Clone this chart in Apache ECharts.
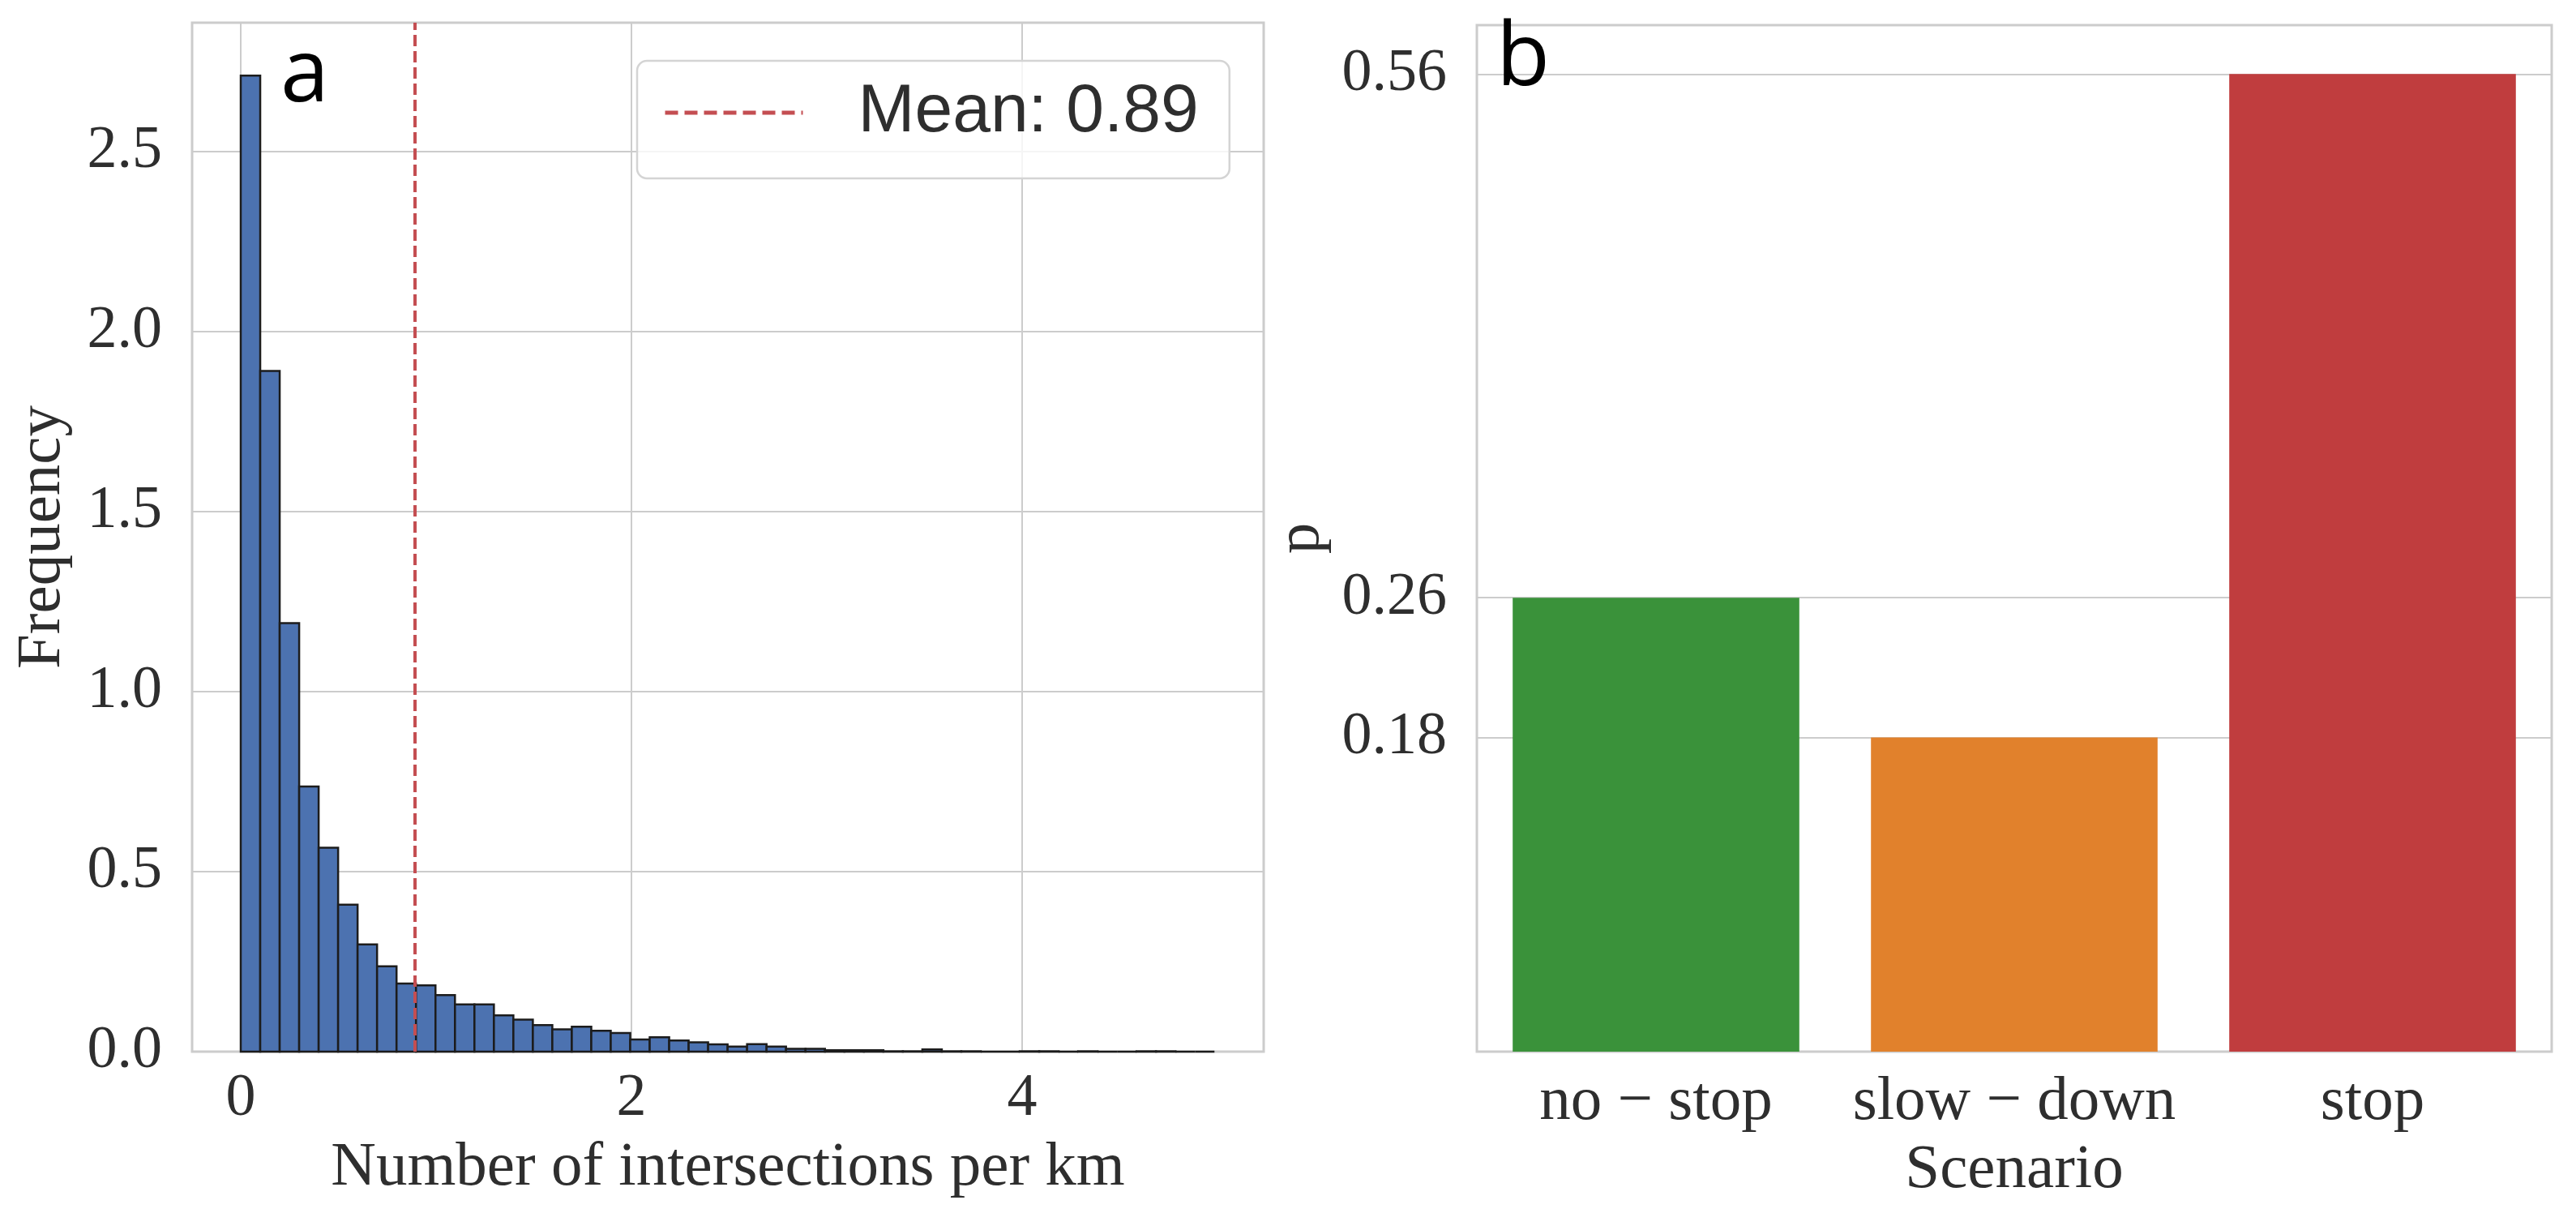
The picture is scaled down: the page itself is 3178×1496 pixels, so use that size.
<!DOCTYPE html>
<html>
<head>
<meta charset="utf-8">
<script src="https://cdn.jsdelivr.net/npm/echarts@6/dist/echarts.min.js"></script>
<style>
  html, body { margin: 0; padding: 0; background: #fff; }
  #chart { width: 3178px; height: 1496px; }
</style>
</head>
<body>
<div id="chart"></div>
<script>
// Panel a: histogram of intersections per km (density), 50 bins
const binStart = 0;
const binWidth = 0.0997;
const histHeights = [
  2.71, 1.89, 1.19, 0.736, 0.566, 0.408, 0.298, 0.237, 0.189, 0.184,
  0.157, 0.131, 0.131, 0.101, 0.089, 0.074, 0.062, 0.069, 0.058, 0.052,
  0.034, 0.040, 0.031, 0.026, 0.020, 0.014, 0.021, 0.014, 0.008, 0.008,
  0.004, 0.004, 0.004, 0.001, 0.001, 0.006, 0.001, 0.001, 0, 0,
  0.001, 0.001, 0, 0.001, 0, 0, 0.001, 0.001, 0, 0
];
const meanValue = 0.89;
const histXTicks = [0, 2, 4];
const histYTicks = [0, 0.5, 1.0, 1.5, 2.0, 2.5];

// Panel b: probability per scenario
const scenarios = ['no \u2212 stop', 'slow \u2212 down', 'stop'];
const probs = [0.26, 0.18, 0.56];
const probTicks = [0.18, 0.26, 0.56];
const scenarioColors = ['#3a923a', '#e1812c', '#c03d3e'];

const serif = '"Liberation Serif", "DejaVu Serif", serif';
const textGray = '#2e2e2e';
const gridGray = '#cccccc';
const meanRed = '#c44e52';

const chartDom = document.getElementById('chart');
const myChart = echarts.init(chartDom);

const histData = histHeights.map((h, i) => [binStart + i * binWidth, binStart + (i + 1) * binWidth, h]);

const option = {
  backgroundColor: '#ffffff',
  animation: false,
  grid: [
    { left: 237, top: 28, right: 1619, bottom: 199, show: true, borderColor: gridGray, borderWidth: 3, outerBoundsMode: 'none' },
    { left: 1822, top: 31, right: 30, bottom: 199, show: true, borderColor: gridGray, borderWidth: 3, outerBoundsMode: 'none' }
  ],
  legend: {
    data: ['Mean: ' + meanValue.toFixed(2)],
    left: 786,
    top: 75,
    orient: 'horizontal',
    selectedMode: false,
    padding: [14, 38, 31, 32],
    itemWidth: 170,
    itemHeight: 8,
    itemStyle: { opacity: 0 },
    lineStyle: { width: 5, type: [16, 8], color: meanRed },
    backgroundColor: 'rgba(255,255,255,0.8)',
    borderColor: '#d4d4d4',
    borderWidth: 2.5,
    borderRadius: 12,
    textStyle: {
      fontFamily: '"Liberation Sans", Arial, sans-serif',
      fontSize: 84,
      lineHeight: 100,
      color: textGray,
      padding: [0, 0, 0, 63]
    }
  },
  xAxis: [
    {
      type: 'value', gridIndex: 0, min: -0.249, max: 5.237,
      axisLine: { show: false },
      axisTick: { show: false, customValues: histXTicks },
      axisLabel: { customValues: histXTicks, margin: 22, fontFamily: serif, fontSize: 74, color: textGray },
      splitLine: { show: true, lineStyle: { color: gridGray, width: 2 } },
      name: 'Number of intersections per km',
      nameLocation: 'middle',
      nameGap: 105,
      nameTextStyle: { fontFamily: serif, fontSize: 77, color: textGray }
    },
    {
      type: 'category', gridIndex: 1, data: scenarios,
      axisLine: { show: false },
      axisTick: { show: false },
      axisLabel: { interval: 0, margin: 24, fontFamily: serif, fontSize: 77, color: textGray },
      splitLine: { show: false },
      name: 'Scenario',
      nameLocation: 'middle',
      nameGap: 108,
      nameTextStyle: { fontFamily: serif, fontSize: 77, color: textGray }
    }
  ],
  yAxis: [
    {
      type: 'value', gridIndex: 0, min: 0, max: 2.857,
      axisLine: { show: false },
      axisTick: { show: false, customValues: histYTicks },
      axisLabel: { customValues: histYTicks, margin: 37, fontFamily: serif, fontSize: 74, color: textGray,
        formatter: v => v.toFixed(1) },
      splitLine: { show: true, lineStyle: { color: gridGray, width: 2 } },
      name: 'Frequency',
      nameLocation: 'middle',
      nameGap: 146,
      nameTextStyle: { fontFamily: serif, fontSize: 77, color: textGray }
    },
    {
      type: 'value', gridIndex: 1, min: 0, max: 0.588,
      axisLine: { show: false },
      axisTick: { show: false, customValues: probTicks },
      axisLabel: { customValues: probTicks, margin: 37, fontFamily: serif, fontSize: 74, color: textGray,
        formatter: v => v.toFixed(2) },
      splitLine: { show: true, lineStyle: { color: gridGray, width: 2 } },
      name: 'p',
      nameLocation: 'middle',
      nameGap: 178,
      nameTextStyle: { fontFamily: serif, fontSize: 77, color: textGray }
    }
  ],
  series: [
    {
      type: 'custom',
      xAxisIndex: 0, yAxisIndex: 0,
      data: histData,
      encode: { x: [0, 1], y: 2 },
      renderItem: function (params, api) {
        const top = api.coord([api.value(0), api.value(2)]);
        const bottom = api.coord([api.value(1), 0]);
        return {
          type: 'rect',
          shape: { x: top[0], y: top[1], width: bottom[0] - top[0], height: bottom[1] - top[1] },
          style: { fill: '#4c72b0', stroke: '#1c1c1c', lineWidth: 2.5 }
        };
      }
    },
    {
      name: 'Mean: ' + meanValue.toFixed(2),
      type: 'line',
      xAxisIndex: 0, yAxisIndex: 0,
      data: [],
      symbol: 'none',
      lineStyle: { color: meanRed, width: 4, type: [14, 6] },
      itemStyle: { color: meanRed },
      markLine: {
        silent: true,
        symbol: ['none', 'none'],
        label: { show: false },
        lineStyle: { color: meanRed, width: 4, type: [14, 6] },
        data: [{ xAxis: meanValue }]
      }
    },
    {
      type: 'bar',
      xAxisIndex: 1, yAxisIndex: 1,
      barCategoryGap: '20%',
      data: probs.map((v, i) => ({ value: v, itemStyle: { color: scenarioColors[i] } }))
    }
  ],
  graphic: [
    { type: 'text', left: 346, top: 40, z: 100,
      style: { text: 'a', font: '108px "Open Sans", sans-serif', fill: '#000' } },
    { type: 'text', left: 1846, top: 20, z: 100,
      style: { text: 'b', font: '108px "Open Sans", sans-serif', fill: '#000' } }
  ]
};

myChart.setOption(option);
</script>
</body>
</html>
